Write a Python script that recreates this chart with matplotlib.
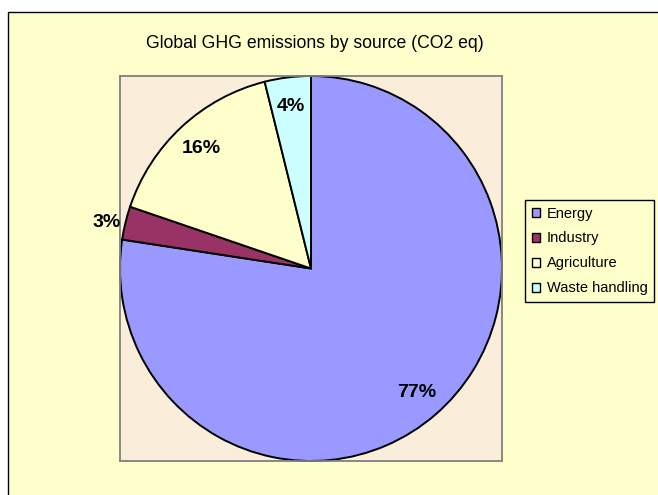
import matplotlib.pyplot as plt
import matplotlib.patches as mpatches
import numpy as np

plt.rcParams['font.family'] = ['Liberation Sans', 'DejaVu Sans']

# Dati (quote percentuali)
sources = ['Energy', 'Industry', 'Agriculture', 'Waste handling']
shares = [77.4, 2.8, 15.9, 3.9]
colors = ['#9999FF', '#993366', '#FFFFCC', '#CCFFFF']
title = 'Global GHG emissions by source (CO2 eq)'

W, H = 658, 495
fig = plt.figure(figsize=(W / 100, H / 100), dpi=100)
fig.patch.set_facecolor('white')

# cornice esterna gialla
frame = mpatches.Rectangle((7.5 / W, -0.1), 1.2, 1 - 12 / H + 0.1,
                           transform=fig.transFigure, facecolor='#FFFFCC',
                           edgecolor='black', linewidth=1.0, zorder=-5)
fig.patches.append(frame)

# area del grafico
ax = fig.add_axes([120 / W, (H - 461) / H, 382 / W, 385 / H])
ax.set_facecolor('#FAEEDB')

wedges, texts, autotexts = ax.pie(
    shares, colors=colors, startangle=90, counterclock=False,
    autopct='%.0f%%', pctdistance=0.85,
    wedgeprops=dict(edgecolor='black', linewidth=1.4),
    textprops=dict(fontsize=14, fontweight='bold', color='black'))

# etichetta piccola (Industry) fuori dalla fetta
w = wedges[1]
mid = np.deg2rad((w.theta1 + w.theta2) / 2)
autotexts[1].set_position((1.1 * np.cos(mid), 1.1 * np.sin(mid) - 0.02))
autotexts[1].set_clip_on(False)

ax.set_aspect('auto')
ax.set_xlim(-1, 1)
ax.set_ylim(-1, 1)
ax.set_frame_on(True)
for s in ax.spines.values():
    s.set_visible(True)
    s.set_color('#808080')
    s.set_linewidth(1.3)
ax.set_xticks([])
ax.set_yticks([])

fig.text(315 / W, 1 - 44 / H, title, ha='center', va='center', fontsize=12.7)

leg = ax.legend(wedges, sources, loc='upper left',
                bbox_to_anchor=(525 / W, 1 - 200 / H), bbox_transform=fig.transFigure,
                borderaxespad=0, fontsize=10.5, frameon=True, fancybox=False,
                facecolor='#FFFFCC', edgecolor='black', framealpha=1,
                handlelength=0.55, handleheight=0.55, handletextpad=0.5,
                labelspacing=0.75, borderpad=0.45)
leg.get_frame().set_linewidth(1.0)
for hnd in leg.legend_handles:
    hnd.set_linewidth(1.0)

fig.savefig('out.png', dpi=100)
